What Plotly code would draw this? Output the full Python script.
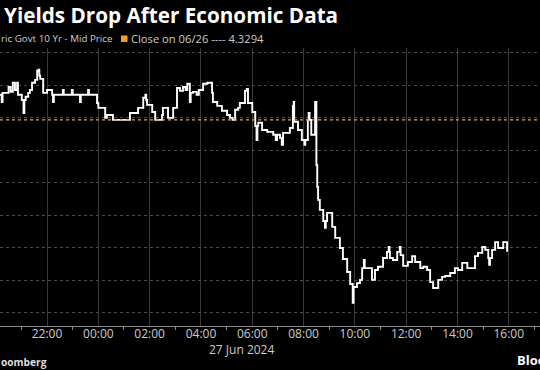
import plotly.graph_objects as go

# ---- data ----
times = [
    "2024-06-26 20:10", "2024-06-26 20:14", "2024-06-26 20:16", "2024-06-26 20:22", "2024-06-26 20:30",
    "2024-06-26 20:35", "2024-06-26 20:40", "2024-06-26 20:45", "2024-06-26 20:50", "2024-06-26 20:52",
    "2024-06-26 21:01", "2024-06-26 21:05", "2024-06-26 21:07", "2024-06-26 21:10", "2024-06-26 21:16",
    "2024-06-26 21:20", "2024-06-26 21:25", "2024-06-26 21:32", "2024-06-26 21:37", "2024-06-26 21:40",
    "2024-06-26 21:42", "2024-06-26 21:44", "2024-06-26 21:51", "2024-06-26 22:00", "2024-06-26 22:12",
    "2024-06-26 22:14", "2024-06-26 22:16", "2024-06-26 22:37", "2024-06-26 22:39", "2024-06-26 22:58",
    "2024-06-26 23:00", "2024-06-26 23:17", "2024-06-26 23:19", "2024-06-26 23:36", "2024-06-26 23:38",
    "2024-06-26 23:57", "2024-06-27 00:00", "2024-06-27 00:16", "2024-06-27 00:20", "2024-06-27 00:34",
    "2024-06-27 01:14", "2024-06-27 01:33", "2024-06-27 01:45", "2024-06-27 01:50", "2024-06-27 01:52",
    "2024-06-27 01:54", "2024-06-27 02:06", "2024-06-27 02:13", "2024-06-27 02:29", "2024-06-27 02:31",
    "2024-06-27 02:43", "2024-06-27 02:55", "2024-06-27 03:04", "2024-06-27 03:11", "2024-06-27 03:18",
    "2024-06-27 03:24", "2024-06-27 03:28", "2024-06-27 03:34", "2024-06-27 03:36", "2024-06-27 03:41",
    "2024-06-27 03:50", "2024-06-27 03:55", "2024-06-27 04:05", "2024-06-27 04:15", "2024-06-27 04:26",
    "2024-06-27 04:28", "2024-06-27 04:38", "2024-06-27 04:49", "2024-06-27 05:01", "2024-06-27 05:08",
    "2024-06-27 05:14", "2024-06-27 05:20", "2024-06-27 05:27", "2024-06-27 05:31", "2024-06-27 05:43",
    "2024-06-27 05:47", "2024-06-27 05:50", "2024-06-27 06:00", "2024-06-27 06:07", "2024-06-27 06:10",
    "2024-06-27 06:12", "2024-06-27 06:14", "2024-06-27 06:23", "2024-06-27 06:35", "2024-06-27 06:49",
    "2024-06-27 06:55", "2024-06-27 06:58", "2024-06-27 07:05", "2024-06-27 07:09", "2024-06-27 07:12",
    "2024-06-27 07:28", "2024-06-27 07:35", "2024-06-27 07:37", "2024-06-27 07:38", "2024-06-27 07:47",
    "2024-06-27 07:56", "2024-06-27 08:02", "2024-06-27 08:04", "2024-06-27 08:10", "2024-06-27 08:12",
    "2024-06-27 08:14", "2024-06-27 08:18", "2024-06-27 08:27", "2024-06-27 08:30", "2024-06-27 08:32",
    "2024-06-27 08:34", "2024-06-27 08:38", "2024-06-27 08:46", "2024-06-27 08:50", "2024-06-27 08:52",
    "2024-06-27 08:55", "2024-06-27 09:07", "2024-06-27 09:14", "2024-06-27 09:25", "2024-06-27 09:32",
    "2024-06-27 09:42", "2024-06-27 09:49", "2024-06-27 09:55", "2024-06-27 09:57", "2024-06-27 10:05",
    "2024-06-27 10:12", "2024-06-27 10:17", "2024-06-27 10:21", "2024-06-27 10:23", "2024-06-27 10:40",
    "2024-06-27 10:47", "2024-06-27 10:54", "2024-06-27 11:06", "2024-06-27 11:15", "2024-06-27 11:19",
    "2024-06-27 11:21", "2024-06-27 11:22", "2024-06-27 11:29", "2024-06-27 11:39", "2024-06-27 11:45",
    "2024-06-27 11:47", "2024-06-27 11:53", "2024-06-27 12:04", "2024-06-27 12:14", "2024-06-27 12:21",
    "2024-06-27 12:33", "2024-06-27 12:40", "2024-06-27 12:49", "2024-06-27 12:56", "2024-06-27 13:03",
    "2024-06-27 13:15", "2024-06-27 13:24", "2024-06-27 13:31", "2024-06-27 13:43", "2024-06-27 13:54",
    "2024-06-27 14:01", "2024-06-27 14:11", "2024-06-27 14:23", "2024-06-27 14:30", "2024-06-27 14:41",
    "2024-06-27 14:48", "2024-06-27 14:58", "2024-06-27 15:05", "2024-06-27 15:12", "2024-06-27 15:14",
    "2024-06-27 15:16", "2024-06-27 15:21", "2024-06-27 15:28", "2024-06-27 15:35", "2024-06-27 15:47",
    "2024-06-27 15:56",
]
yields = [
    4.3371, 4.3349, 4.3377, 4.3377, 4.3395,
    4.3380, 4.3408, 4.3386, 4.3408, 4.3371,
    4.3355, 4.3315, 4.3355, 4.3365, 4.3377,
    4.3386, 4.3408, 4.3417, 4.3445, 4.3448,
    4.3430, 4.3420, 4.3377, 4.3386, 4.3371,
    4.3349, 4.3371, 4.3386, 4.3371, 4.3386,
    4.3371, 4.3349, 4.3371, 4.3386, 4.3371,
    4.3346, 4.3331, 4.3300, 4.3309, 4.3294,
    4.3315, 4.3331, 4.3362, 4.3371, 4.3355,
    4.3340, 4.3318, 4.3294, 4.3309, 4.3331,
    4.3300, 4.3331, 4.3392, 4.3383, 4.3395,
    4.3386, 4.3405, 4.3349, 4.3377, 4.3380,
    4.3371, 4.3386, 4.3405, 4.3408, 4.3377,
    4.3349, 4.3337, 4.3322, 4.3309, 4.3300,
    4.3294, 4.3325, 4.3331, 4.3346, 4.3383,
    4.3389, 4.3346, 4.3318, 4.3275, 4.3232,
    4.3275, 4.3285, 4.3263, 4.3257, 4.3248,
    4.3232, 4.3248, 4.3238, 4.3217, 4.3254,
    4.3269, 4.3337, 4.3349, 4.3288, 4.3263,
    4.3232, 4.3217, 4.3232, 4.3294, 4.3315,
    4.3294, 4.3248, 4.3349, 4.3155, 4.3088,
    4.3048, 4.3017, 4.2983, 4.2962, 4.2983,
    4.3008, 4.2965, 4.2931, 4.2900, 4.2866,
    4.2826, 4.2789, 4.2731, 4.2780, 4.2792,
    4.2802, 4.2838, 4.2863, 4.2838, 4.2802,
    4.2832, 4.2842, 4.2869, 4.2888, 4.2903,
    4.2888, 4.2869, 4.2863, 4.2888, 4.2903,
    4.2878, 4.2845, 4.2857, 4.2875, 4.2857,
    4.2838, 4.2842, 4.2832, 4.2795, 4.2777,
    4.2802, 4.2811, 4.2814, 4.2823, 4.2838,
    4.2832, 4.2854, 4.2838, 4.2838, 4.2875,
    4.2885, 4.2903, 4.2894, 4.2869, 4.2848,
    4.2869, 4.2894, 4.2918, 4.2900, 4.2918,
    4.2888,
]
close_value = 4.3294
x_range = ["2024-06-26 20:10", "2024-06-27 17:13"]
y_range = [4.266, 4.3515]

title_text = "Yields Drop After Economic Data"
series_label = "ric Govt 10 Yr - Mid Price"
close_label = "Close on 06/26 ---- 4.3294"
date_label = "27 Jun 2024"
source_label = "oomberg"
logo_label = "Bloomberg"

# ---- layout constants ----
W, H = 540, 370
T, B = 48, 44
PH = H - T - B
FONT = "Open Sans"


def px(x):
    return x / W


def py(y):
    return (H - B - y) / PH


fig = go.Figure()
fig.add_trace(go.Scatter(
    x=times, y=yields, mode="lines",
    line=dict(color="#ffffff", width=1.9, shape="hv"),
    hoverinfo="skip", showlegend=False,
))
fig.add_hline(y=close_value, line=dict(color="#e8a33a", width=1.2, dash="dot"))

fig.update_layout(
    width=W, height=H,
    margin=dict(l=0, r=0, t=T, b=B, pad=0, autoexpand=False),
    paper_bgcolor="#000000", plot_bgcolor="#000000",
    showlegend=False,
    font=dict(family=FONT, color="#cccccc", size=12),
    xaxis=dict(
        type="date", range=x_range, automargin=False,
        tickformat="%H:%M", dtick=2 * 3600 * 1000, tick0="2024-06-26 00:00",
        showgrid=True, gridcolor="#3a3a3a", gridwidth=1,
        showline=True, linecolor="#8a8a8a", linewidth=1,
        ticks="", ticklen=0, ticklabelstandoff=-3, tickfont=dict(size=12, color="#cccccc"),
        minor=dict(dtick=3600 * 1000, ticks="outside", ticklen=3, tickcolor="#8a8a8a", showgrid=False),
        zeroline=False, fixedrange=True,
    ),
    yaxis=dict(
        range=y_range, dtick=0.01, tick0=4.27, automargin=False,
        showgrid=True, gridcolor="#4a4a4a", griddash="dot", gridwidth=1,
        showticklabels=False, zeroline=False, showline=False, fixedrange=True,
    ),
)

fig.add_annotation(text=f"<b>{title_text}</b>", xref="paper", yref="paper",
                   x=px(2), y=py(15), xanchor="left", yanchor="middle", showarrow=False,
                   font=dict(family=FONT, size=20.7, color="#ffffff"))
fig.add_annotation(text=series_label, xref="paper", yref="paper",
                   x=px(-1), y=py(39), xanchor="left", yanchor="middle", showarrow=False,
                   font=dict(family=FONT, size=9.8, color="#cccccc"))
fig.add_shape(type="rect", xref="paper", yref="paper",
              x0=px(121), x1=px(127.5), y0=py(42), y1=py(35.5),
              fillcolor="#f0a020", line=dict(width=0))
fig.add_annotation(text=close_label, xref="paper", yref="paper",
                   x=px(129), y=py(39), xanchor="left", yanchor="middle", showarrow=False,
                   font=dict(family=FONT, size=11.2, color="#cccccc"))
fig.add_annotation(text=date_label, xref="paper", yref="paper",
                   x=px(241.5), y=py(349), xanchor="center", yanchor="middle", showarrow=False,
                   font=dict(family=FONT, size=12, color="#cccccc"))
fig.add_annotation(text=f"<b>{source_label}</b>", xref="paper", yref="paper",
                   x=px(-1), y=py(362), xanchor="left", yanchor="middle", showarrow=False,
                   font=dict(family=FONT, size=10.2, color="#dddddd"))
fig.add_annotation(text=f"<b>{logo_label}</b>", xref="paper", yref="paper",
                   x=px(515), y=py(360), xanchor="left", yanchor="middle", showarrow=False,
                   font=dict(family=FONT, size=13, color="#ffffff"))

fig.write_html(
    "out.html",
    config={"displayModeBar": False},
    post_script="document.body.style.margin='0';document.body.style.padding='0';"
                "document.body.style.overflow='hidden';",
)
